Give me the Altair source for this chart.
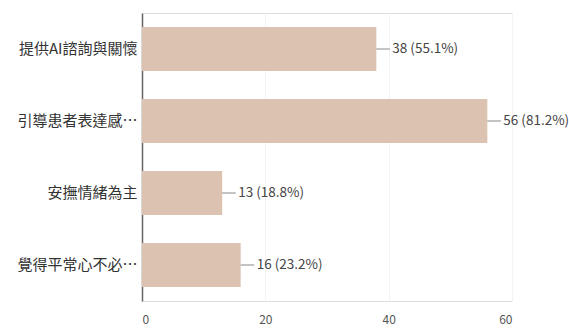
import altair as alt
import pandas as pd

categories = ["提供AI諮詢與關懷", "引導患者表達感受與想法", "安撫情緒為主", "覺得平常心不必理會"]
counts = [38, 56, 13, 16]
labels = ["38 (55.1%)", "56 (81.2%)", "13 (18.8%)", "16 (23.2%)"]
x_ticks = [0, 20, 40, 60]

df = pd.DataFrame({"cat": categories, "n": counts, "lab": labels})

FONT = "Noto Sans CJK TC"

y_enc = alt.Y("cat:N", sort=categories,
              scale=alt.Scale(paddingInner=0.39, paddingOuter=0.195),
              axis=alt.Axis(title=None, ticks=False, domainColor="#666666", domainWidth=1.5,
                            labelFontSize=15, labelColor="#333333", labelFont=FONT,
                            labelPadding=5, labelLimit=126))
x_scale = alt.Scale(domain=[0, 60], nice=False)

bars = alt.Chart(df).mark_bar(color="#dcc2b0").encode(
    x=alt.X("n:Q", scale=x_scale,
            axis=alt.Axis(title=None, values=x_ticks, domain=False, ticks=False,
                          labelFontSize=12, labelColor="#555555", labelFont=FONT,
                          labelPadding=13, gridColor="#f3f3f3")),
    y=y_enc,
)

lead = alt.Chart(df).transform_calculate(end="datum.n + 2.2").mark_rule(color="#888888", strokeWidth=1).encode(
    x=alt.X("n:Q", scale=x_scale),
    x2="end:Q",
    y=alt.Y("cat:N", sort=categories, bandPosition=0.5),
)

text = alt.Chart(df).mark_text(align="left", baseline="middle", dx=16, fontSize=13.5,
                               color="#444444", font=FONT, limit=200).encode(
    x=alt.X("n:Q", scale=x_scale),
    y=alt.Y("cat:N", sort=categories, bandPosition=0.5),
    text="lab:N",
)

chart = (bars + lead + text).properties(
    width=370, height=288,
    autosize=alt.AutoSizeParams(type="none"),
    padding={"left": 142, "top": 13, "right": 57, "bottom": 30},
).configure_view(stroke=None).configure(background="white")

chart.save("out.html", embed_options={"renderer": "svg", "actions": False})
